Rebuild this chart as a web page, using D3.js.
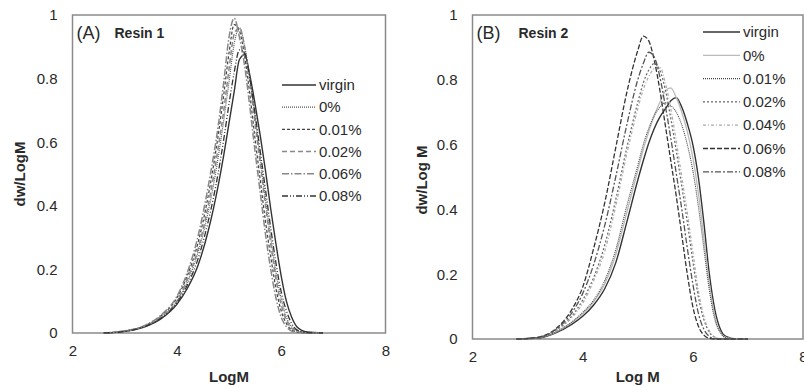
<!DOCTYPE html>
<html>
<head>
<meta charset="utf-8">
<script src="https://cdn.jsdelivr.net/npm/d3@7"></script>
<style>
  body { margin: 0; background: #fff; }
  svg { display: block; font-family: Arial, "Liberation Sans", sans-serif; }
</style>
</head>
<body>
<svg id="chart" width="804" height="387"></svg>
<script>
// LogM sample points
const logMA = [2.6, 3.0, 3.4, 3.7, 4.0, 4.2, 4.4, 4.6, 4.8, 4.9, 5.0, 5.1, 5.2, 5.3, 5.4, 5.5, 5.6, 5.7, 5.8, 5.9, 6.0, 6.1, 6.2, 6.3, 6.5, 6.8];
const logMB = [2.8, 3.2, 3.5, 3.8, 4.0, 4.2, 4.4, 4.6, 4.8, 5.0, 5.1, 5.2, 5.3, 5.4, 5.5, 5.6, 5.7, 5.8, 5.9, 6.0, 6.1, 6.2, 6.3, 6.4, 6.5, 6.6, 6.8, 7.0];

const yTicks = [0, 0.2, 0.4, 0.6, 0.8, 1];
const xTicks = [2, 4, 6, 8];

// Resin 1 (panel A)
const seriesNamesA = ["virgin", "0%", "0.01%", "0.02%", "0.06%", "0.08%"];
const virginA = [0, 0.005, 0.02, 0.045, 0.09, 0.14, 0.21, 0.32, 0.47, 0.56, 0.66, 0.76, 0.86, 0.875, 0.81, 0.72, 0.62, 0.51, 0.39, 0.28, 0.18, 0.10, 0.05, 0.02, 0.003, 0];
const pct0A = [0, 0.006, 0.022, 0.05, 0.10, 0.16, 0.25, 0.38, 0.56, 0.67, 0.79, 0.91, 0.96, 0.90, 0.80, 0.68, 0.55, 0.42, 0.30, 0.19, 0.11, 0.05, 0.02, 0.007, 0.001, 0];
const pct001A = [0, 0.006, 0.024, 0.055, 0.11, 0.18, 0.28, 0.43, 0.63, 0.75, 0.88, 0.97, 0.95, 0.87, 0.75, 0.61, 0.48, 0.35, 0.24, 0.14, 0.07, 0.03, 0.01, 0.003, 0, 0];
const pct002A = [0, 0.006, 0.023, 0.052, 0.10, 0.17, 0.26, 0.40, 0.59, 0.70, 0.83, 0.94, 0.96, 0.90, 0.79, 0.66, 0.53, 0.40, 0.28, 0.17, 0.09, 0.04, 0.015, 0.005, 0, 0];
const pct006A = [0, 0.007, 0.025, 0.057, 0.115, 0.19, 0.30, 0.46, 0.66, 0.79, 0.93, 0.99, 0.93, 0.84, 0.71, 0.57, 0.44, 0.31, 0.20, 0.11, 0.05, 0.02, 0.006, 0.002, 0, 0];
const pct008A = [0, 0.005, 0.021, 0.047, 0.095, 0.15, 0.23, 0.35, 0.51, 0.61, 0.72, 0.82, 0.89, 0.88, 0.80, 0.69, 0.57, 0.45, 0.33, 0.22, 0.13, 0.07, 0.03, 0.01, 0.001, 0];

// Resin 2 (panel B)
const seriesNamesB = ["virgin", "0%", "0.01%", "0.02%", "0.04%", "0.06%", "0.08%"];
const virginB = [0, 0.003, 0.018, 0.045, 0.07, 0.105, 0.155, 0.235, 0.36, 0.49, 0.55, 0.605, 0.65, 0.685, 0.71, 0.735, 0.745, 0.715, 0.665, 0.60, 0.50, 0.36, 0.20, 0.09, 0.03, 0.008, 0, 0];
const pct0B = [0, 0.004, 0.02, 0.05, 0.078, 0.115, 0.17, 0.26, 0.39, 0.52, 0.585, 0.64, 0.69, 0.73, 0.765, 0.775, 0.745, 0.70, 0.64, 0.56, 0.45, 0.31, 0.17, 0.07, 0.02, 0.005, 0, 0];
const pct001B = [0, 0.004, 0.021, 0.052, 0.082, 0.12, 0.18, 0.275, 0.41, 0.535, 0.60, 0.65, 0.69, 0.715, 0.73, 0.72, 0.70, 0.66, 0.60, 0.52, 0.41, 0.28, 0.15, 0.06, 0.02, 0.004, 0, 0];
const pct002B = [0, 0.005, 0.025, 0.07, 0.12, 0.19, 0.29, 0.43, 0.59, 0.73, 0.79, 0.83, 0.85, 0.83, 0.77, 0.68, 0.58, 0.47, 0.36, 0.24, 0.13, 0.06, 0.02, 0.005, 0, 0, 0, 0];
const pct004B = [0, 0.005, 0.024, 0.065, 0.11, 0.18, 0.27, 0.41, 0.57, 0.71, 0.77, 0.81, 0.835, 0.84, 0.79, 0.71, 0.61, 0.50, 0.39, 0.27, 0.15, 0.07, 0.025, 0.006, 0.001, 0, 0, 0];
const pct006B = [0, 0.006, 0.03, 0.09, 0.16, 0.28, 0.42, 0.59, 0.76, 0.89, 0.935, 0.92, 0.86, 0.77, 0.66, 0.55, 0.44, 0.32, 0.20, 0.10, 0.04, 0.012, 0.002, 0, 0, 0, 0, 0];
const pct008B = [0, 0.005, 0.028, 0.08, 0.14, 0.23, 0.35, 0.50, 0.66, 0.80, 0.85, 0.885, 0.87, 0.81, 0.72, 0.62, 0.51, 0.40, 0.28, 0.17, 0.08, 0.03, 0.008, 0.001, 0, 0, 0, 0];

// line styles: [colour, dasharray, width]
const stylesA = [
  ["#333", null, 1.4],
  ["#555", "1,1", 1.2],
  ["#444", "3,2", 1.2],
  ["#888", "5,3", 1.5],
  ["#888", "7,2,1.5,2", 1.5],
  ["#333", "6,2,1,2,1,2", 1.3],
];
const stylesB = [
  ["#333", null, 1.4],
  ["#bbb", null, 1.3],
  ["#444", "1,1", 1.1],
  ["#666", "2,2", 1.2],
  ["#aaa", "3,2,1,2", 1.2],
  ["#333", "5,2", 1.3],
  ["#555", "6,2,2,2", 1.3],
];

const svg = d3.select("#chart");

function drawPanel(p) {
  const x = d3.scaleLinear().domain([2, 8]).range([p.left, p.right]);
  const y = d3.scaleLinear().domain([0, 1]).range([p.bottom, p.top]);
  const g = svg.append("g");

  // plot border
  g.append("rect")
    .attr("x", p.left)
    .attr("y", p.top)
    .attr("width", p.right - p.left)
    .attr("height", p.bottom - p.top)
    .attr("fill", "none")
    .attr("stroke", "#8a8a8a")
    .attr("stroke-width", 1.5);

  // axes without tick marks, labels only
  const yAxis = g.append("g")
    .attr("transform", "translate(" + p.left + ",0)")
    .call(d3.axisLeft(y).tickValues(yTicks).tickSize(0).tickPadding(p.yPad).tickFormat(d3.format("")));
  const xAxis = g.append("g")
    .attr("transform", "translate(0," + p.bottom + ")")
    .call(d3.axisBottom(x).tickValues(xTicks).tickSize(0).tickPadding(p.xPad).tickFormat(d3.format("d")));
  [yAxis, xAxis].forEach(function (a) {
    a.select(".domain").remove();
    a.selectAll("text")
      .attr("font-size", 15)
      .attr("font-family", "Arial, 'Liberation Sans', sans-serif")
      .attr("fill", "#2a2a2a");
  });

  const line = d3.line()
    .x(function (d) { return x(d[0]); })
    .y(function (d) { return y(d[1]); })
    .curve(d3.curveMonotoneX);

  p.series.forEach(function (vals, i) {
    const s = p.styles[i];
    g.append("path")
      .datum(p.xs.map(function (v, j) { return [v, vals[j]]; }))
      .attr("d", line)
      .attr("fill", "none")
      .attr("stroke", s[0])
      .attr("stroke-width", s[2])
      .attr("stroke-dasharray", s[1]);
  });

  // legend
  p.names.forEach(function (name, i) {
    const s = p.styles[i];
    const ly = p.legY + i * p.legStep;
    g.append("line")
      .attr("x1", p.legX)
      .attr("x2", p.legX + p.legLen)
      .attr("y1", ly)
      .attr("y2", ly)
      .attr("stroke", s[0])
      .attr("stroke-width", s[2])
      .attr("stroke-dasharray", s[1]);
    g.append("text")
      .attr("x", p.legX + p.legLen + 3)
      .attr("y", ly)
      .attr("dy", "0.35em")
      .attr("font-size", 15)
      .attr("fill", "#2a2a2a")
      .text(name);
  });

  // panel tag
  g.append("text")
    .attr("x", p.left + 4)
    .attr("y", 39)
    .attr("font-size", 18)
    .attr("fill", "#2a2a2a")
    .text(p.tag);
  g.append("text")
    .attr("x", p.left + p.tagGap)
    .attr("y", 38)
    .attr("font-size", 14)
    .attr("font-weight", "bold")
    .attr("fill", "#2a2a2a")
    .text(p.resin);

  // axis titles
  g.append("text")
    .attr("x", (p.left + p.right) / 2)
    .attr("y", 382)
    .attr("text-anchor", "middle")
    .attr("font-size", 15)
    .attr("font-weight", "bold")
    .attr("fill", "#2a2a2a")
    .text(p.xTitle);
  g.append("text")
    .attr("transform", "translate(" + p.yTitleX + "," + p.yTitleY + ") rotate(-90)")
    .attr("text-anchor", "middle")
    .attr("font-size", 15)
    .attr("font-weight", "bold")
    .attr("fill", "#2a2a2a")
    .text(p.yTitle);
}

drawPanel({
  left: 72.5, right: 385.5, top: 15, bottom: 333,
  xs: logMA,
  series: [virginA, pct0A, pct001A, pct002A, pct006A, pct008A],
  names: seriesNamesA, styles: stylesA,
  legX: 282, legLen: 34, legY: 85, legStep: 22.2,
  tag: "(A)", resin: "Resin 1", tagGap: 42,
  xTitle: "LogM", yTitle: "dw/LogM", yTitleX: 25, yTitleY: 174,
  yPad: 15, xPad: 12,
});

drawPanel({
  left: 472.5, right: 803, top: 15, bottom: 339,
  xs: logMB,
  series: [virginB, pct0B, pct001B, pct002B, pct004B, pct006B, pct008B],
  names: seriesNamesB, styles: stylesB,
  legX: 703, legLen: 37, legY: 32, legStep: 23.3,
  tag: "(B)", resin: "Resin 2", tagGap: 46,
  xTitle: "Log M", yTitle: "dw/Log M", yTitleX: 427, yTitleY: 180,
  yPad: 15, xPad: 12,
});
</script>
</body>
</html>
